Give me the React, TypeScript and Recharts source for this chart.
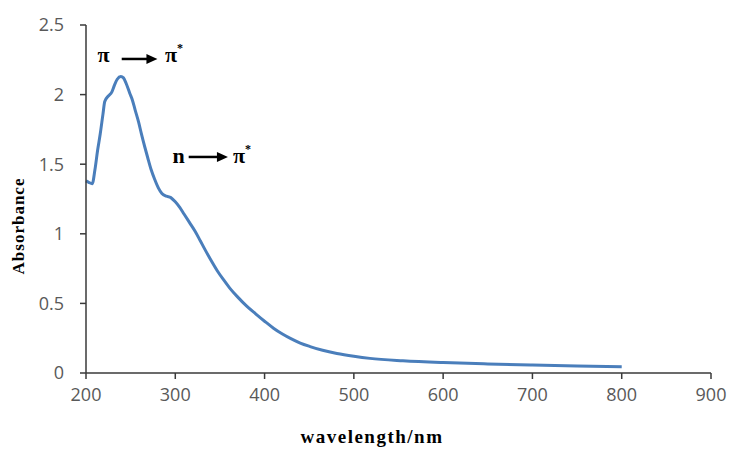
import React from 'react';
import { LineChart, Line, XAxis, YAxis, ReferenceLine, ReferenceDot } from 'recharts';

const wavelengths = [200, 203, 207, 210, 213, 216, 219, 221, 225, 229, 232, 235, 239, 242, 245, 249, 252, 255, 259, 262, 266, 269, 273, 277, 281, 285, 290, 295, 300, 305, 310, 316, 322, 328, 333, 340, 347, 354, 361, 370, 380, 390, 400, 410, 420, 430, 440, 451, 465, 481, 500, 518, 555, 600, 650, 700, 750, 800];
const absorbance = [1.38, 1.37, 1.36, 1.46, 1.6, 1.72, 1.86, 1.95, 1.99, 2.02, 2.07, 2.11, 2.13, 2.12, 2.08, 2.01, 1.96, 1.89, 1.8, 1.72, 1.62, 1.55, 1.46, 1.39, 1.33, 1.29, 1.27, 1.26, 1.23, 1.19, 1.14, 1.08, 1.02, 0.95, 0.89, 0.81, 0.735, 0.67, 0.61, 0.545, 0.48, 0.425, 0.372, 0.322, 0.28, 0.245, 0.215, 0.19, 0.163, 0.14, 0.12, 0.105, 0.088, 0.075, 0.065, 0.057, 0.05, 0.045];
const xTicks = [200, 300, 400, 500, 600, 700, 800, 900];
const yTicks = [0, 0.5, 1, 1.5, 2, 2.5];

const annotationTexts = [
  { text: 'π', sup: '', x: 213, y: 2.234 },
  { text: 'π', sup: '*', x: 288.5, y: 2.234 },
  { text: 'n', sup: '', x: 297, y: 1.509 },
  { text: 'π', sup: '*', x: 364.5, y: 1.509 },
];
const annotationArrows = [
  { x1: 240, x2: 280, y: 2.256 },
  { x1: 315, x2: 359, y: 1.552 },
];

const data = wavelengths.map((w, i) => ({ wl: w, abs: absorbance[i] }));

const tickStyle = { fontFamily: '"Open Sans", sans-serif', fontSize: 18, fill: '#595959' };
const serif = '"Liberation Serif", "Times New Roman", serif';

const Arrow = (props: any) => {
  const { x1, y1, x2, y2 } = props;
  const head = 11;
  return (
    <g>
      <line x1={x1} y1={y1} x2={x2 - head + 1} y2={y2} stroke="#000" strokeWidth={2.5} />
      <polygon points={`${x2},${y2} ${x2 - head},${y2 - 5} ${x2 - head},${y2 + 5}`} fill="#000" />
    </g>
  );
};

const makeTextShape = (text: string, sup: string) => (props: any) => {
  const { cx, cy } = props;
  return (
    <text x={cx} y={cy} fontFamily={serif} fontWeight="bold" fontSize={22} fill="#000" textAnchor="start">
      {text}
      {sup ? (
        <tspan fontSize={12} dy={-10}>{sup}</tspan>
      ) : null}
    </text>
  );
};

export default function App() {
  return (
    <div style={{ position: 'absolute', left: 0, top: 0, width: 731, height: 450, background: '#fff' }}>
      <LineChart width={731} height={450} data={data} margin={{ top: 25, right: 20, bottom: 47, left: 36 }}>
        <XAxis
          dataKey="wl"
          type="number"
          domain={[200, 900]}
          ticks={xTicks}
          interval={0}
          tick={tickStyle}
          tickSize={6}
          tickMargin={9}
          height={30}
          axisLine={{ stroke: '#3a3a3a', strokeWidth: 1.5 }}
          tickLine={{ stroke: '#3a3a3a', strokeWidth: 1.5 }}
          label={{
            content: () => (
              <text x={372} y={443} textAnchor="middle" fontFamily={serif} fontWeight="bold" fontSize={19} letterSpacing={1.5} fill="#000">
                wavelength/nm
              </text>
            ),
          }}
        />
        <YAxis
          type="number"
          domain={[0, 2.5]}
          ticks={yTicks}
          interval={0}
          tick={tickStyle}
          tickSize={6}
          tickMargin={16}
          width={50}
          axisLine={{ stroke: '#3a3a3a', strokeWidth: 1.5 }}
          tickLine={{ stroke: '#3a3a3a', strokeWidth: 1.5 }}
          label={{
            content: () => (
              <text x={24} y={226} transform="rotate(-90 24 226)" textAnchor="middle" fontFamily={serif} fontWeight="bold" fontSize={17} letterSpacing={1} fill="#000">
                Absorbance
              </text>
            ),
          }}
        />
        <Line
          type="monotone"
          dataKey="abs"
          stroke="#4A7EBB"
          strokeWidth={3}
          dot={false}
          activeDot={false}
          isAnimationActive={false}
        />
        {annotationArrows.map((a, i) => (
          <ReferenceLine
            key={'arr' + i}
            segment={[{ x: a.x1, y: a.y }, { x: a.x2, y: a.y }]}
            shape={Arrow}
            ifOverflow="visible"
          />
        ))}
        {annotationTexts.map((t, i) => (
          <ReferenceDot
            key={'txt' + i}
            x={t.x}
            y={t.y}
            r={0}
            ifOverflow="visible"
            shape={makeTextShape(t.text, t.sup)}
          />
        ))}
      </LineChart>
    </div>
  );
}
